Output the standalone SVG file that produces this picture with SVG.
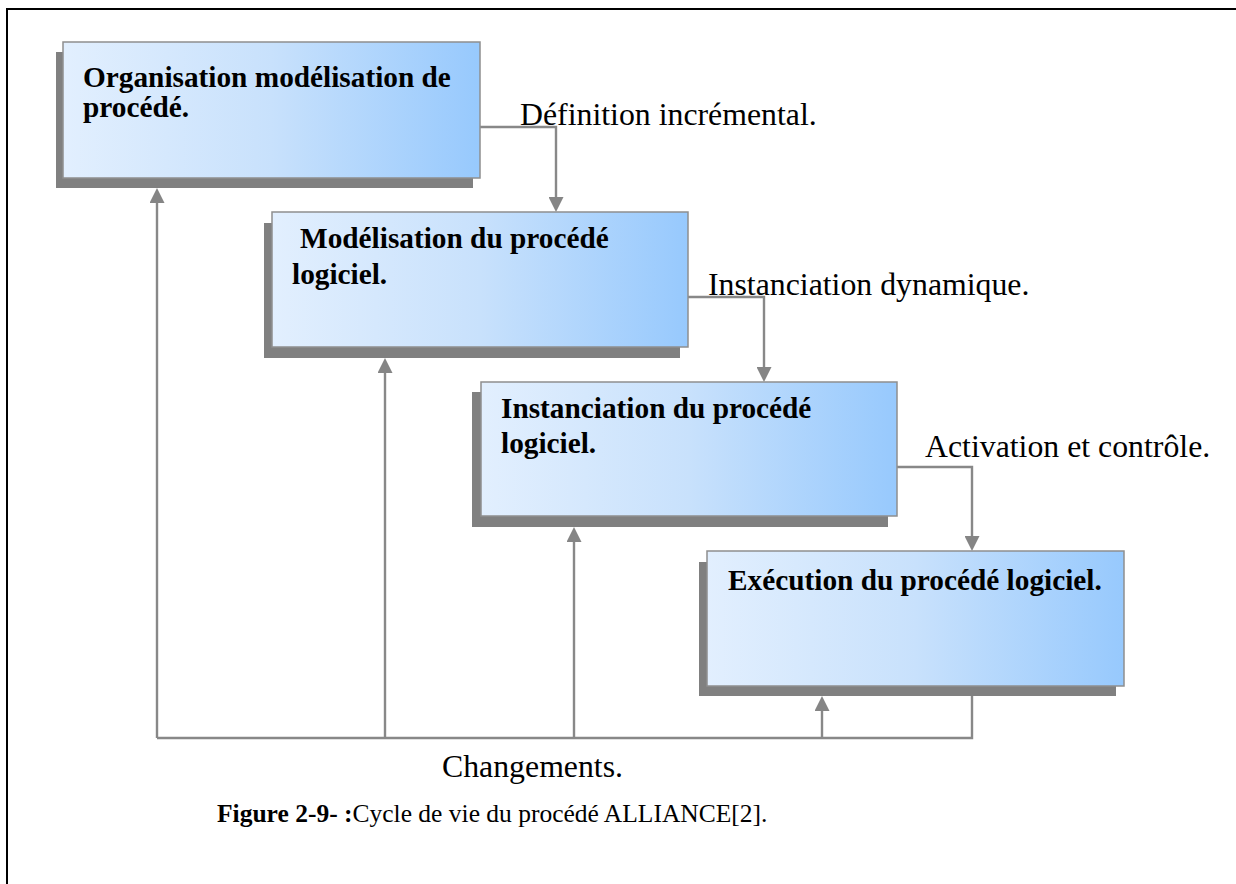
<svg xmlns="http://www.w3.org/2000/svg" width="1236" height="884" viewBox="0 0 1236 884">
  <defs>
    <linearGradient id="boxFill" x1="0" y1="0" x2="1" y2="0">
      <stop offset="0" stop-color="#e2effe"/>
      <stop offset="0.5" stop-color="#c8e1fc"/>
      <stop offset="1" stop-color="#97c9fd"/>
    </linearGradient>
    <marker id="arrow" markerUnits="userSpaceOnUse" markerWidth="16" markerHeight="15" refX="2" refY="7.5" orient="auto">
      <path d="M0,0 L15,7.5 L0,15 Z" fill="#858585"/>
    </marker>
    <style>
      .frame { fill: none; stroke: #000; stroke-width: 2; }
      .shadow { fill: #808080; }
      .box { fill: url(#boxFill); stroke: #8e8e8e; stroke-width: 1.5; }
      .title { font-family: "Liberation Serif", "Times New Roman", serif; font-weight: bold; font-size: 29.3px; fill: #000; }
      .label { font-family: "Liberation Serif", "Times New Roman", serif; font-size: 31.8px; fill: #000; }
      .caption { font-family: "Liberation Serif", "Times New Roman", serif; font-size: 25.5px; fill: #000; }
      .conn { fill: none; stroke: #888; stroke-width: 2.4; }
    </style>
  </defs>

  <rect class="frame" x="7" y="9" width="1300" height="1000"/>

  <!-- connectors -->
  <g id="connectors">
    <!-- forward flow between phases -->
    <path class="conn" d="M480,127 H556 V199" marker-end="url(#arrow)"/>
    <path class="conn" d="M688,297 H764 V369" marker-end="url(#arrow)"/>
    <path class="conn" d="M897,467 H972 V538" marker-end="url(#arrow)"/>
    <!-- change feedback loop -->
    <path class="conn" d="M972,686 V738 H157"/>
    <path class="conn" d="M157,738 V201" marker-end="url(#arrow)"/>
    <path class="conn" d="M385,738 V371" marker-end="url(#arrow)"/>
    <path class="conn" d="M574,738 V540" marker-end="url(#arrow)"/>
    <path class="conn" d="M822,738 V709" marker-end="url(#arrow)"/>
  </g>

  <g id="node-organisation">
    <rect class="shadow" x="56" y="52" width="417" height="136"/>
    <rect class="box" x="63" y="42" width="417" height="136"/>
    <text class="title" x="83" y="87">Organisation modélisation de</text>
    <text class="title" x="83" y="117">procédé.</text>
  </g>

  <g id="node-modelisation">
    <rect class="shadow" x="264" y="223" width="416" height="135"/>
    <rect class="box" x="272" y="212" width="416" height="135"/>
    <text class="title" x="300" y="248">Modélisation du procédé</text>
    <text class="title" x="292" y="284">logiciel.</text>
  </g>

  <g id="node-instanciation">
    <rect class="shadow" x="472" y="392" width="416" height="135"/>
    <rect class="box" x="481" y="382" width="416" height="134"/>
    <text class="title" x="501" y="418">Instanciation du procédé</text>
    <text class="title" x="501" y="453">logiciel.</text>
  </g>

  <g id="node-execution">
    <rect class="shadow" x="699" y="562" width="417" height="134"/>
    <rect class="box" x="707" y="551" width="417" height="135"/>
    <text class="title" x="728" y="590">Exécution du procédé logiciel.</text>
  </g>

  <g id="labels">
    <text class="label" x="520" y="125" font-size="33">Définition incrémental.</text>
    <text class="label" x="708" y="295">Instanciation dynamique.</text>
    <text class="label" x="925" y="457">Activation et contrôle.</text>
    <text class="label" x="442" y="777" font-size="31">Changements.</text>
  </g>

  <text class="caption" x="217" y="822"><tspan font-weight="bold">Figure 2-9- :</tspan>Cycle de vie du procédé ALLIANCE[2].</text>
</svg>
